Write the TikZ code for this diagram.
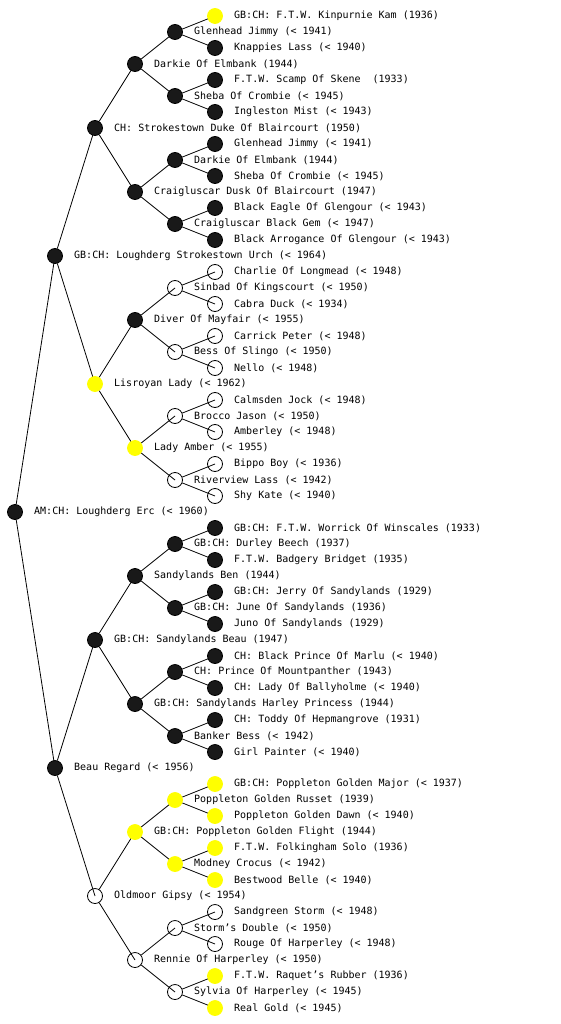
\documentclass[tikz,border=0pt]{standalone}
\usepackage{fontspec}
\setmonofont{DejaVu Sans Mono}
\usetikzlibrary{backgrounds}
\definecolor{dotblack}{RGB}{25,25,25}
\definecolor{yel}{RGB}{255,255,0}
\tikzset{
  dog/.style={circle,minimum size=15pt,inner sep=0pt,line width=0.8pt},
  blk/.style={dog,draw=black,fill=dotblack},
  yl/.style={dog,draw=yel,fill=yel},
  opn/.style={dog,draw=black},
  lbl/.style={anchor=west,inner sep=0pt,font=\ttfamily\fontsize{10}{12}\selectfont},
  edge/.style={line width=0.8pt,black}
}
\newcommand{\dg}[5]{%
  \node[#1] (#2) at (#3,#4) {};
  \node[lbl] (#2l) at (#3+19,#4) {#5};
}
\begin{document}
\begin{tikzpicture}[x=1pt,y=-1pt]
\useasboundingbox (0,0) rectangle (560,1024);
\dg{blk}{r}{15}{512}{AM:CH: Loughderg Erc (< 1960)}
% sire side
\dg{blk}{a}{55}{256}{GB:CH: Loughderg Strokestown Urch (< 1964)}
\dg{blk}{aa}{95}{128}{CH: Strokestown Duke Of Blaircourt (1950)}
\dg{blk}{aaa}{135}{64}{Darkie Of Elmbank (1944)}
\dg{blk}{aaaa}{175}{32}{Glenhead Jimmy (< 1941)}
\dg{yl}{aaaaa}{215}{16}{GB:CH: F.T.W. Kinpurnie Kam (1936)}
\dg{blk}{aaaab}{215}{48}{Knappies Lass (< 1940)}
\dg{blk}{aaab}{175}{96}{Sheba Of Crombie (< 1945)}
\dg{blk}{aaaba}{215}{80}{F.T.W. Scamp Of Skene\ \ (1933)}
\dg{blk}{aaabb}{215}{112}{Ingleston Mist (< 1943)}
\dg{blk}{aab}{135}{192}{Craigluscar Dusk Of Blaircourt (1947)}
\dg{blk}{aaba}{175}{160}{Darkie Of Elmbank (1944)}
\dg{blk}{aabaa}{215}{144}{Glenhead Jimmy (< 1941)}
\dg{blk}{aabab}{215}{176}{Sheba Of Crombie (< 1945)}
\dg{blk}{aabb}{175}{224}{Craigluscar Black Gem (< 1947)}
\dg{blk}{aabba}{215}{208}{Black Eagle Of Glengour (< 1943)}
\dg{blk}{aabbb}{215}{240}{Black Arrogance Of Glengour (< 1943)}
\dg{yl}{ab}{95}{384}{Lisroyan Lady (< 1962)}
\dg{blk}{aba}{135}{320}{Diver Of Mayfair (< 1955)}
\dg{opn}{abaa}{175}{288}{Sinbad Of Kingscourt (< 1950)}
\dg{opn}{abaaa}{215}{272}{Charlie Of Longmead (< 1948)}
\dg{opn}{abaab}{215}{304}{Cabra Duck (< 1934)}
\dg{opn}{abab}{175}{352}{Bess Of Slingo (< 1950)}
\dg{opn}{ababa}{215}{336}{Carrick Peter (< 1948)}
\dg{opn}{ababb}{215}{368}{Nello (< 1948)}
\dg{yl}{abb}{135}{448}{Lady Amber (< 1955)}
\dg{opn}{abba}{175}{416}{Brocco Jason (< 1950)}
\dg{opn}{abbaa}{215}{400}{Calmsden Jock (< 1948)}
\dg{opn}{abbab}{215}{432}{Amberley (< 1948)}
\dg{opn}{abbb}{175}{480}{Riverview Lass (< 1942)}
\dg{opn}{abbba}{215}{464}{Bippo Boy (< 1936)}
\dg{opn}{abbbb}{215}{496}{Shy Kate (< 1940)}
% dam side
\dg{blk}{b}{55}{768}{Beau Regard (< 1956)}
\dg{blk}{ba}{95}{640}{GB:CH: Sandylands Beau (1947)}
\dg{blk}{baa}{135}{576}{Sandylands Ben (1944)}
\dg{blk}{baaa}{175}{544}{GB:CH: Durley Beech (1937)}
\dg{blk}{baaaa}{215}{528}{GB:CH: F.T.W. Worrick Of Winscales (1933)}
\dg{blk}{baaab}{215}{560}{F.T.W. Badgery Bridget (1935)}
\dg{blk}{baab}{175}{608}{GB:CH: June Of Sandylands (1936)}
\dg{blk}{baaba}{215}{592}{GB:CH: Jerry Of Sandylands (1929)}
\dg{blk}{baabb}{215}{624}{Juno Of Sandylands (1929)}
\dg{blk}{bab}{135}{704}{GB:CH: Sandylands Harley Princess (1944)}
\dg{blk}{baba}{175}{672}{CH: Prince Of Mountpanther (1943)}
\dg{blk}{babaa}{215}{656}{CH: Black Prince Of Marlu (< 1940)}
\dg{blk}{babab}{215}{688}{CH: Lady Of Ballyholme (< 1940)}
\dg{blk}{babb}{175}{736}{Banker Bess (< 1942)}
\dg{blk}{babba}{215}{720}{CH: Toddy Of Hepmangrove (1931)}
\dg{blk}{babbb}{215}{752}{Girl Painter (< 1940)}
\dg{opn}{bb}{95}{896}{Oldmoor Gipsy (< 1954)}
\dg{yl}{bba}{135}{832}{GB:CH: Poppleton Golden Flight (1944)}
\dg{yl}{bbaa}{175}{800}{Poppleton Golden Russet (1939)}
\dg{yl}{bbaaa}{215}{784}{GB:CH: Poppleton Golden Major (< 1937)}
\dg{yl}{bbaab}{215}{816}{Poppleton Golden Dawn (< 1940)}
\dg{yl}{bbab}{175}{864}{Modney Crocus (< 1942)}
\dg{yl}{bbaba}{215}{848}{F.T.W. Folkingham Solo (1936)}
\dg{yl}{bbabb}{215}{880}{Bestwood Belle (< 1940)}
\dg{opn}{bbb}{135}{960}{Rennie Of Harperley (< 1950)}
\dg{opn}{bbba}{175}{928}{Storm’s Double (< 1950)}
\dg{opn}{bbbaa}{215}{912}{Sandgreen Storm (< 1948)}
\dg{opn}{bbbab}{215}{944}{Rouge Of Harperley (< 1948)}
\dg{opn}{bbbb}{175}{992}{Sylvia Of Harperley (< 1945)}
\dg{yl}{bbbba}{215}{976}{F.T.W. Raquet’s Rubber (1936)}
\dg{yl}{bbbbb}{215}{1008}{Real Gold (< 1945)}
\begin{pgfonlayer}{background}
\draw[edge] (r) -- (a.center);
\draw[edge] (r) -- (b.center);
\foreach \p in {a,aa,aaa,aaaa,aaab,aab,aaba,aabb,ab,aba,abaa,abab,abb,abba,abbb,
                b,ba,baa,baaa,baab,bab,baba,babb,bb,bba,bbaa,bbab,bbb,bbba,bbbb}{
  \draw[edge] (\p) -- (\p a.center);
  \draw[edge] (\p) -- (\p b.center);
}
\end{pgfonlayer}
\end{tikzpicture}
\end{document}
